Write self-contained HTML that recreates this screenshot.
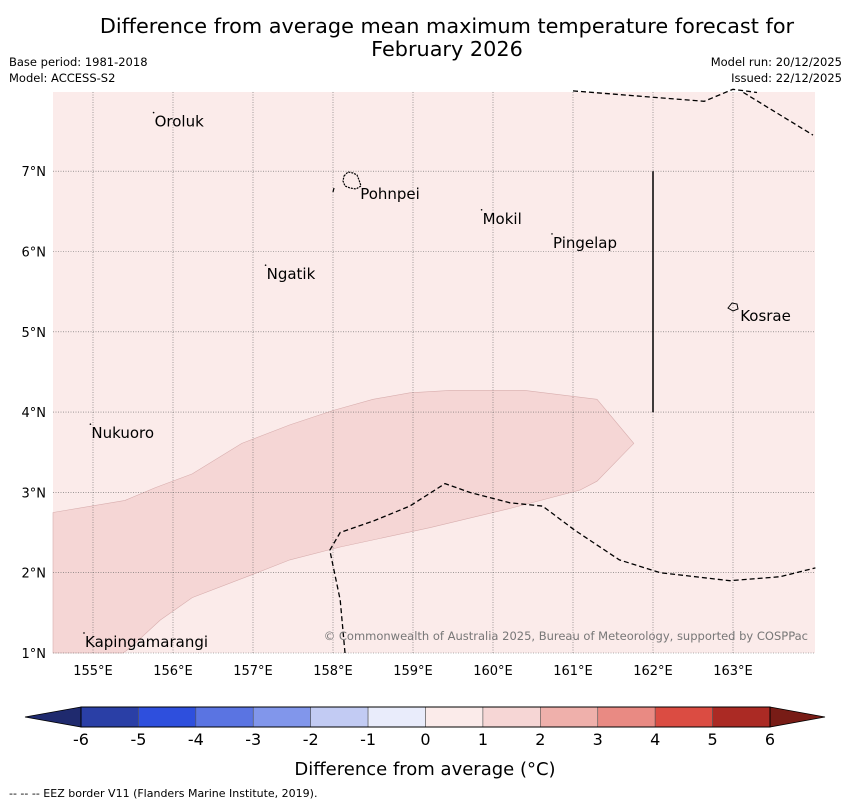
<!DOCTYPE html>
<html><head><meta charset="utf-8">
<style>
html,body{margin:0;padding:0;background:#fff;}
svg{display:block;font-family:"DejaVu Sans","Liberation Sans",sans-serif;}
</style></head>
<body>
<svg id="chart" width="850" height="804" viewBox="0 0 850 804" xmlns="http://www.w3.org/2000/svg">
<text x="447" y="33" font-size="20.8" text-anchor="middle" fill="#000">Difference from average mean maximum temperature forecast for</text>
<text x="447" y="56" font-size="20.8" text-anchor="middle" fill="#000">February 2026</text>
<text x="9" y="66" font-size="11.5" fill="#000">Base period: 1981-2018</text>
<text x="9" y="82" font-size="11.5" fill="#000">Model: ACCESS-S2</text>
<text x="842" y="66" font-size="11.5" fill="#000" text-anchor="end">Model run: 20/12/2025</text>
<text x="842" y="82" font-size="11.5" fill="#000" text-anchor="end">Issued: 22/12/2025</text>
<g id="map"></g>
<g id="cbar"></g>
<text x="425" y="775" font-size="18" text-anchor="middle" fill="#000">Difference from average (°C)</text>
<text x="9" y="797" font-size="11" fill="#000">--  --  -- EEZ border V11 (Flanders Marine Institute, 2019).</text>
</svg>
<script>
const lonTicks=[155,156,157,158,159,160,161,162,163];
const latTicks=[1,2,3,4,5,6,7];
const anomalyPolyLon=[154.5,155.4,155.78,156.24,156.86,157.46,158.0,158.5,158.96,159.46,160.4,161.3,161.76,161.3,161.09,160.21,159.21,158.09,157.46,157.0,156.24,155.84,155.46,155.375,154.5];
const anomalyPolyLat=[2.75,2.9,3.06,3.23,3.61,3.84,4.02,4.16,4.24,4.27,4.27,4.16,3.61,3.14,3.03,2.80,2.56,2.32,2.16,1.98,1.69,1.41,1.06,1.0,1.0];
const placeNames=["Oroluk","Pohnpei","Mokil","Pingelap","Ngatik","Kosrae","Nukuoro","Kapingamarangi"];
const placeLon=[155.77,158.34,159.87,160.75,157.17,163.09,154.98,154.9];
const placeLat=[7.63,6.73,6.42,6.12,5.73,5.21,3.75,1.15];
const cbLevels=[-6,-5,-4,-3,-2,-1,0,1,2,3,4,5,6];
const cbColors=["#2a3fa6","#2e4fdd","#5a74e2","#8196eb","#c2cbf3","#e9ecfb","#fbebea","#f6d6d5","#efb0ab","#e98a83","#db4c42","#ab2a24"];
const eez1Lon=[161.0,162.64,163.0,163.3];
const eez1Lat=[8.0,7.87,8.02,7.98];
const eez2Lon=[163.13,164.0];
const eez2Lat=[7.98,7.45];
const eez3Lon=[158.15,158.09,157.96,158.09,158.52,158.96,159.4,159.71,160.21,160.62,161.02,161.58,162.09,162.96,163.59,164.03];
const eez3Lat=[1.0,1.66,2.28,2.5,2.65,2.83,3.11,3.0,2.87,2.83,2.53,2.16,2.0,1.9,1.95,2.06];

const NS="http://www.w3.org/2000/svg";
const X0=53,X1=815,Y0=92,Y1=653;
function xs(lon){return 93+(lon-155)*80;}
function ys(lat){return 653-(lat-1)*80.3;}
function mk(tag,attrs,parent){const e=document.createElementNS(NS,tag);for(const k in attrs)e.setAttribute(k,attrs[k]);parent.appendChild(e);return e;}
const map=document.getElementById('map');
const bg=mk('rect',{x:X0,y:Y0,width:X1-X0,height:Y1-Y0,fill:'#fbebea'},map);


let d=anomalyPolyLon.map((l,i)=>(i?'L':'M')+xs(l).toFixed(1)+','+ys(anomalyPolyLat[i]).toFixed(1)).join('')+'Z';
const poly=mk('path',{d:d,fill:'#f5d6d5',stroke:'#d8aeae','stroke-width':0.6},map);


lonTicks.forEach(l=>{
  const g=mk('line',{x1:xs(l),x2:xs(l),y1:Y0,y2:Y1,stroke:'#666','stroke-width':0.6,'stroke-dasharray':'1,1.5'},map);
  
  
  const t=mk('text',{x:xs(l),y:675,'font-size':13,'text-anchor':'middle',fill:'#000'},document.getElementById('chart'));
  t.textContent=l+'°E';
  
  
});
latTicks.forEach(l=>{
  const g=mk('line',{x1:X0,x2:X1,y1:ys(l),y2:ys(l),stroke:'#666','stroke-width':0.6,'stroke-dasharray':'1,1.5'},map);
  
  
  const t=mk('text',{x:46,y:ys(l)+5,'font-size':13,'text-anchor':'end',fill:'#000'},document.getElementById('chart'));
  t.textContent=l+'°N';
  
  
});
[[eez1Lon,eez1Lat],[eez2Lon,eez2Lat],[eez3Lon,eez3Lat]].forEach(p=>{
  const dd=p[0].map((l,i)=>(i?'L':'M')+xs(l).toFixed(1)+','+ys(p[1][i]).toFixed(1)).join('');
  const e=mk('path',{d:dd,fill:'none',stroke:'#000','stroke-width':1.3,'stroke-dasharray':'5,3'},map);
  
  
});
const sl=mk('line',{x1:xs(162),x2:xs(162),y1:ys(7),y2:ys(4),stroke:'#000','stroke-width':1.5},map);


const pi=mk('path',{d:'M344,176 L348,172 L353,173 L357,175 L359,180 L361,186 L356,189 L350,188 L345,186 L343,181 Z',fill:'none',stroke:'#000','stroke-width':1.2,'stroke-dasharray':'2,1'},map);


const ki=mk('path',{d:'M728,308 L732,303 L737,304 L738,309 L733,311 Z',fill:'none',stroke:'#000','stroke-width':1},map);


const pt=mk('path',{d:'M334,188 L333,192',stroke:'#000','stroke-width':1.2},map);


placeNames.forEach((n,i)=>{
  if(n!=="Pohnpei"&&n!=="Kosrae"){
    const dot=mk('circle',{cx:xs(placeLon[i])-1,cy:ys(placeLat[i])-8,r:0.8,fill:'#000'},map);
    
    
  }
  const t=mk('text',{x:xs(placeLon[i]),y:ys(placeLat[i])+6,'font-size':15,fill:'#000'},map);
  t.textContent=n;
  
  
});
const cr=mk('text',{x:808,y:640,'font-size':11.5,'text-anchor':'end',fill:'#777'},map);
cr.textContent='© Commonwealth of Australia 2025, Bureau of Meteorology, supported by COSPPac';


const cb=document.getElementById('cbar');
const CB0=81,CB1=770,CBY=707,CBH=20;
function cx(v){return CB0+(v+6)*(CB1-CB0)/12;}
const lt=mk('path',{d:`M${CB0},${CBY}L25,${CBY+CBH/2}L${CB0},${CBY+CBH}Z`,fill:'#1f2a6e',stroke:'#000','stroke-width':0.8},cb);


const rt=mk('path',{d:`M${CB1},${CBY}L825,${CBY+CBH/2}L${CB1},${CBY+CBH}Z`,fill:'#781c16',stroke:'#000','stroke-width':0.8},cb);


cbColors.forEach((c,i)=>{
  const r=mk('rect',{x:cx(cbLevels[i]),y:CBY,width:cx(cbLevels[i+1])-cx(cbLevels[i]),height:CBH,fill:c,stroke:'#555','stroke-width':0.6},cb);
  
  
});
const ob=mk('rect',{x:CB0,y:CBY,width:CB1-CB0,height:CBH,fill:'none',stroke:'#000','stroke-width':1},cb);


cbLevels.forEach(v=>{
  const t=mk('text',{x:cx(v),y:745,'font-size':16,'text-anchor':'middle',fill:'#000'},cb);
  t.textContent=v;
  
  
});
</script>
</body></html>
